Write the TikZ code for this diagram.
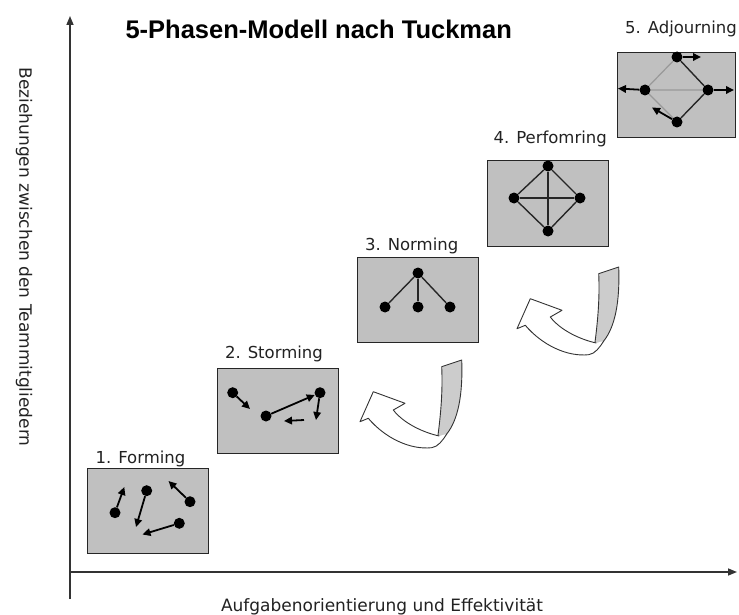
\documentclass[tikz,border=0pt]{standalone}
\usepackage{fontspec}
\setmainfont{DejaVu Sans}
\newfontfamily\titlefont{Liberation Sans}
\usetikzlibrary{arrows.meta}
\definecolor{boxgray}{HTML}{C0C0C0}
\definecolor{ribbongray}{HTML}{CCCCCC}
\definecolor{txt}{HTML}{222222}
\begin{document}
\begin{tikzpicture}[x=1pt,y=-1pt,
  phasebox/.style={draw=black!85,line width=1pt,fill=boxgray,minimum width=121pt,minimum height=85pt,inner sep=0pt},
  dot/.style={circle,fill=black,inner sep=0pt,minimum size=11pt},
  mv/.style={line width=1.8pt,-{Triangle[length=8pt,width=7.5pt]}},
  link/.style={line width=1.4pt,draw=black!85},
  faint/.style={line width=1.2pt,draw=black!40},
  phlabel/.style={anchor=base west,text=txt,font=\fontsize{16.5}{20}\selectfont},
  axis/.style={line width=1.5pt,draw=black!80,-{Triangle[length=9pt,width=7pt]}},
  ribbonline/.style={line width=0.9pt,draw=black!80,line join=round}
]
\useasboundingbox (0,0) rectangle (739,615);

% axes
\coordinate (ybot) at (70,599);
\coordinate (ytop) at (70,16);
\coordinate (xleft) at (70,572);
\coordinate (xright) at (737,572);
\draw[axis] (ybot) -- (ytop);
\draw[axis] (xleft) -- (xright);

\node[anchor=base,text=txt,font=\fontsize{17}{20}\selectfont] (xlab) at (382,611) {Aufgabenorientierung und Effektivität};
\node[rotate=-90,text=txt,font=\fontsize{17}{20}\selectfont] (ylab) at (24,257) {Beziehungen zwischen den Teammitgliedern};

\node[anchor=base west,font=\titlefont\bfseries\fontsize{25.5}{30}\selectfont] (title) at (122,38.5) {5-Phasen-Modell nach Tuckman};

% boxes
\node[phasebox] (b1) at (147.5,510.5) {};
\node[phasebox] (b2) at (277.5,410.5) {};
\node[phasebox] (b3) at (417.5,299.5) {};
\node[phasebox] (b4) at (547.5,203.5) {};
\node[phasebox,minimum width=118pt] (b5) at (676,95) {};

\node[phlabel] (l1) at (92,463) {1. Forming};
\node[phlabel] (l2) at (221.5,358.5) {2. Storming};
\node[phlabel] (l3) at (361.5,250.5) {3. Norming};
\node[phlabel] (l4) at (490,143.5) {4. Perfomring};
\node[phlabel] (l5) at (621.5,33.5) {5. Adjourning};

% 1 Forming
\node[dot] (f1) at (115,512.7) {};
\node[dot] (f2) at (146.7,490.7) {};
\node[dot] (f3) at (190,501.7) {};
\node[dot] (f4) at (179.3,523.3) {};
\coordinate (fe1) at (124.3,487);
\coordinate (fe2) at (136,527);
\coordinate (fe3) at (168.5,481);
\coordinate (fe4) at (142.5,534.5);
\draw[mv] (f1) -- (fe1);
\draw[mv] (f2) -- (fe2);
\draw[mv] (f3) -- (fe3);
\draw[mv] (f4) -- (fe4);

% 2 Storming
\node[dot] (s1) at (232.7,392.7) {};
\node[dot] (s2) at (266,416) {};
\node[dot] (s3) at (320,392.7) {};
\coordinate (se1) at (250,409);
\coordinate (se3) at (316,420);
\coordinate (sfa) at (304,420);
\coordinate (sfb) at (284,421);
\draw[mv] (s1) -- (se1);
\draw[mv] (s2) -- (s3);
\draw[mv] (s3) -- (se3);
\draw[mv] (sfa) -- (sfb);

% 3 Norming
\node[dot] (n0) at (418,273) {};
\node[dot] (n1) at (385,307) {};
\node[dot] (n2) at (418,307) {};
\node[dot] (n3) at (450,307) {};
\draw[link] (n0) -- (n1);
\draw[link] (n0) -- (n2);
\draw[link] (n0) -- (n3);

% 4 Performing
\node[dot] (p1) at (548,166) {};
\node[dot] (p2) at (514,198) {};
\node[dot] (p3) at (580,198) {};
\node[dot] (p4) at (548,231) {};
\draw[link] (p1) -- (p2);
\draw[link] (p1) -- (p3);
\draw[link] (p1) -- (p4);
\draw[link] (p2) -- (p3);
\draw[link] (p2) -- (p4);
\draw[link] (p3) -- (p4);

% 5 Adjourning
\node[dot] (a1) at (677,57) {};
\node[dot] (a2) at (645,90) {};
\node[dot] (a3) at (708,90) {};
\node[dot] (a4) at (677,122) {};
\draw[faint] (a1) -- (a2);
\draw[link] (a1) -- (a3);
\draw[draw=black!70,line width=0.8pt,double=black!35,double distance=1.2pt] (a2) -- (a3);
\draw[faint] (a2) -- (a4);
\draw[link] (a3) -- (a4);
\coordinate (ae1) at (701,57);
\coordinate (ae2) at (618,88.5);
\coordinate (ae3) at (734,90);
\coordinate (ae4) at (652,107.5);
\draw[mv] (a1) -- (ae1);
\draw[mv] (a2) -- (ae2);
\draw[mv] (a3) -- (ae3);
\draw[mv] (a4) -- (ae4);

% ribbon arrows
\foreach \dx/\dy in {0/0,157/-93}{
\begin{scope}[shift={(\dx,\dy)}]
  \path[fill=ribbongray,ribbonline,draw]
    (441.7,366.7) -- (461.7,360)
    .. controls (463,395) and (458,420) .. (446.7,434)
    .. controls (443,438) and (440,440) .. (437.3,440.7)
    .. controls (440,420) and (443,395) .. cycle;
  \fill[white]
    (439.3,436) .. controls (425,433) and (404,424) .. (393.3,410)
    -- (405,403.3) -- (373.3,391.7) -- (360,421.7) -- (368.3,418.3)
    .. controls (385,438) and (410,450) .. (431.7,447.7)
    .. controls (438,447) and (443,440) .. (446.7,434) -- cycle;
  \draw[ribbonline]
    (439.3,436) .. controls (425,433) and (404,424) .. (393.3,410)
    -- (405,403.3) -- (373.3,391.7) -- (360,421.7) -- (368.3,418.3)
    .. controls (385,438) and (410,450) .. (431.7,447.7)
    .. controls (438,447) and (443,440) .. (446.7,434);
\end{scope}
}
\end{tikzpicture}
\end{document}
